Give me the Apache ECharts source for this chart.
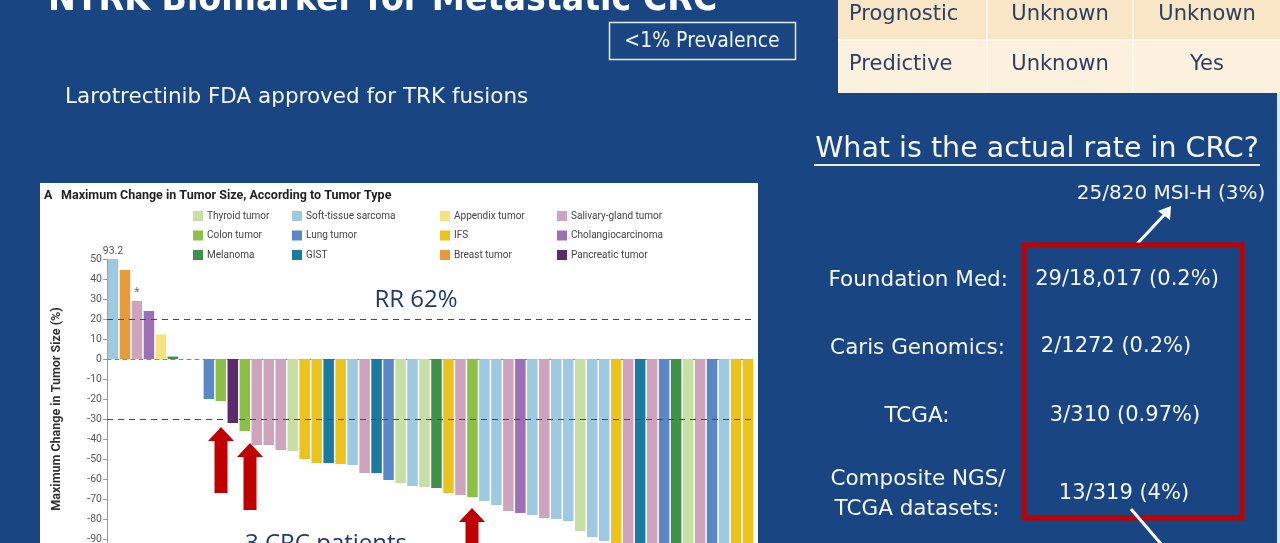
<!DOCTYPE html>
<html>
<head>
<meta charset="utf-8">
<script src="https://cdn.jsdelivr.net/npm/echarts/dist/echarts.min.js"></script>
<style>
html,body{margin:0;padding:0;background:#194682;overflow:hidden;}
#c{width:1280px;height:600px;}
</style>
</head>
<body>
<div id="c"></div>
<script>
// ---- data ----
const patients = ['1','2','3','4','5','6','7','8','9','10','11','12','13','14','15','16','17','18','19','20','21','22','23','24','25','26','27','28','29','30','31','32','33','34','35','36','37','38','39','40','41','42','43','44','45','46','47','48','49','50','51','52','53','54'];
const changes = [93.2, 44.5, 29, 24, 12.3, 1.2, null, null,
  -20, -21, -32, -36, -43, -43, -45.5, -46, -50, -52, -52, -52.5, -53, -57, -57, -60.5,
  -62, -63.5, -64, -64.5, -67, -68, -69, -71, -73, -76, -77, -78, -79.5, -80, -81, -86,
  -89, -91, -100, -100, -100, -100, -100, -100, -100, -100, -100, -100, -100, -100];
const tumorTypes = ['Soft-tissue sarcoma','Breast tumor','Salivary-gland tumor','Cholangiocarcinoma','Appendix tumor','Melanoma', null, null,
  'Lung tumor','Colon tumor','Pancreatic tumor','Colon tumor','Salivary-gland tumor','Salivary-gland tumor','Salivary-gland tumor','Thyroid tumor',
  'IFS','IFS','GIST','IFS','Soft-tissue sarcoma','Salivary-gland tumor','GIST','Lung tumor',
  'Thyroid tumor','Soft-tissue sarcoma','Thyroid tumor','Melanoma','IFS','Salivary-gland tumor','Colon tumor','Soft-tissue sarcoma',
  'Soft-tissue sarcoma','Salivary-gland tumor','Cholangiocarcinoma','Soft-tissue sarcoma','Salivary-gland tumor','Soft-tissue sarcoma','Soft-tissue sarcoma','Thyroid tumor',
  'Soft-tissue sarcoma','Soft-tissue sarcoma','IFS','Salivary-gland tumor','GIST','Salivary-gland tumor','Lung tumor','Melanoma',
  'Thyroid tumor','Salivary-gland tumor','Lung tumor','Soft-tissue sarcoma','IFS','IFS'];
const legendCol1 = ['Thyroid tumor','Colon tumor','Melanoma'];
const legendCol2 = ['Soft-tissue sarcoma','Lung tumor','GIST'];
const legendCol3 = ['Appendix tumor','IFS','Breast tumor'];
const legendCol4 = ['Salivary-gland tumor','Cholangiocarcinoma','Pancreatic tumor'];
const typeColors = {
  'Thyroid tumor':'#c6dfa3','Colon tumor':'#8cbf45','Melanoma':'#3f9148',
  'Soft-tissue sarcoma':'#9dcae0','Lung tumor':'#5b87c7','GIST':'#1b7aa0',
  'Appendix tumor':'#f6e27f','IFS':'#ecc21c','Breast tumor':'#e59b3c',
  'Salivary-gland tumor':'#cea4bd','Cholangiocarcinoma':'#9c70b6','Pancreatic tumor':'#5b2a6b'
};
const yTicks = {min:-100, max:50, interval:10};

const rateLabels = ['Foundation Med:','Caris Genomics:','TCGA:'];
const rateValues = ['29/18,017 (0.2%)','2/1272 (0.2%)','3/310 (0.97%)','13/319 (4%)'];

// ---- chart ----
const chart = echarts.init(document.getElementById('c'), null, {renderer:'canvas'});
const narrow = "Roboto,'Open Sans',sans-serif";
const slideFont = "'DejaVu Sans',sans-serif";
const condFont = "'DejaVu Sans Condensed','DejaVu Sans',sans-serif";
const allTypes = legendCol1.concat(legendCol2, legendCol3, legendCol4);

const series = allTypes.map((t, k) => ({
  name: t,
  type: 'bar',
  stack: 'all',
  barWidth: 10.5,
  itemStyle: {color: typeColors[t]},
  data: changes.map((v, i) => tumorTypes[i] === t ? v : null),
  z: 3
}));
series[3].markLine = {
  silent: true, symbol: 'none', animation: false,
  label: {show: false},
  lineStyle: {type: [6, 5], color: '#4a4a4a', width: 1.2},
  data: [{yAxis: 20}, {yAxis: -30}]
};
const stsSeries = series[allTypes.indexOf('Soft-tissue sarcoma')];
stsSeries.markPoint = {
  symbol: 'rect', symbolSize: 1, itemStyle: {color: 'rgba(0,0,0,0)'},
  label: {show: true, position: 'top', distance: 2, formatter: '93.2', color: '#555', fontSize: 10.5, fontFamily: narrow},
  data: [{coord: ['1', 50]}]
};
const salSeries = series[allTypes.indexOf('Salivary-gland tumor')];
salSeries.markPoint = {
  symbol: 'rect', symbolSize: 1, itemStyle: {color: 'rgba(0,0,0,0)'},
  label: {show: true, position: 'top', distance: 2, formatter: '*', color: '#777', fontSize: 12, fontFamily: narrow},
  data: [{coord: ['3', 29]}]
};

function legend(cols, left) {
  return {
    data: cols, left: left, top: 211, orient: 'vertical', padding: 0,
    itemWidth: 10, itemHeight: 10, itemGap: 9.5, icon: 'rect',
    selectedMode: false,
    textStyle: {fontSize: 10, lineHeight: 10, color: '#444', fontFamily: narrow, padding: [0,0,0,-1]}
  };
}

function arrow(cx, tipY, baseY) {
  return {
    type: 'polygon', z: 20,
    shape: {points: [[cx, tipY], [cx + 13, tipY + 14], [cx + 6.5, tipY + 14], [cx + 6.5, baseY],
                     [cx - 6.5, baseY], [cx - 6.5, tipY + 14], [cx - 13, tipY + 14]]},
    style: {fill: '#c00000'}
  };
}
function wtext(x, y, text, size, align) {
  return {
    type: 'text', z: 20, x: x, y: y,
    style: {text: text, fill: '#f4f6fa', font: size + 'px ' + slideFont, align: align || 'left', verticalAlign: 'middle'}
  };
}
function ttext(x, y, text, align) {
  return {type: 'text', z: 12, x: x, y: y, style: {text: text, font: '21px ' + slideFont, fill: '#2b3f63', align: align, verticalAlign: 'middle'}};
}

const graphics = [
  {type: 'rect', z: -5, shape: {x: 40, y: 183, width: 718, height: 420}, style: {fill: '#ffffff'}},
  {type: 'text', z: 5, x: 44, y: 196, style: {text: 'A', font: 'bold 12.5px ' + narrow, fill: '#222', verticalAlign: 'middle'}},
  {type: 'text', z: 5, x: 61, y: 196, style: {text: 'Maximum Change in Tumor Size, According to Tumor Type', font: 'bold 12.5px ' + narrow, fill: '#222', verticalAlign: 'middle'}},
  {type: 'text', z: 20, x: 416, y: 300, style: {text: 'RR 62%', font: '24px "Open Sans"', fill: '#1f3a6b', align: 'center', verticalAlign: 'middle'}},
  {type: 'text', z: 20, x: 326, y: 544, style: {text: '3 CRC patients', font: '24px "Open Sans"', fill: '#1f3a6b', align: 'center', verticalAlign: 'middle'}},
  arrow(221, 427, 493),
  arrow(250, 443, 510),
  arrow(472, 508, 560),
  {type: 'text', z: 20, x: 48, y: 0, style: {text: 'NTRK Biomarker for Metastatic CRC', font: 'bold 37px ' + condFont, fill: '#ffffff', verticalAlign: 'middle'}},
  {type: 'rect', z: 20, shape: {x: 609.5, y: 22.5, width: 186, height: 37}, style: {fill: 'none', stroke: '#e6ecf4', lineWidth: 1.5}},
  {type: 'text', z: 20, x: 702, y: 42, style: {text: '<1% Prevalence', fill: '#f4f6fa', font: '21px ' + condFont, align: 'center', verticalAlign: 'middle'}},
  wtext(65, 97, 'Larotrectinib FDA approved for TRK fusions', 21.5, 'left'),
  {type: 'rect', z: 10, shape: {x: 838, y: 0, width: 442, height: 40}, style: {fill: '#f9e6c6'}},
  {type: 'rect', z: 10, shape: {x: 838, y: 40, width: 442, height: 53}, style: {fill: '#fcf1de'}},
  {type: 'rect', z: 11, shape: {x: 838, y: 39, width: 442, height: 2}, style: {fill: '#fdf6ea'}},
  {type: 'rect', z: 11, shape: {x: 986, y: 0, width: 2, height: 93}, style: {fill: '#fdf6ea'}},
  {type: 'rect', z: 11, shape: {x: 1132, y: 0, width: 2, height: 93}, style: {fill: '#fdf6ea'}},
  ttext(849, 15, 'Prognostic', 'left'),
  ttext(1060, 15, 'Unknown', 'center'),
  ttext(1207, 15, 'Unknown', 'center'),
  ttext(849, 65, 'Predictive', 'left'),
  ttext(1060, 65, 'Unknown', 'center'),
  ttext(1207, 65, 'Yes', 'center'),
  {type: 'rect', z: 10, shape: {x: 1277, y: 93, width: 3, height: 500}, style: {fill: '#dfe6f0'}},
  wtext(1037, 150, 'What is the actual rate in CRC?', 28.5, 'center'),
  {type: 'rect', z: 20, shape: {x: 814, y: 164, width: 446, height: 2}, style: {fill: '#e8edf5'}},
  wtext(1171, 194, '25/820 MSI-H (3%)', 20, 'center'),
  {type: 'line', z: 20, shape: {x1: 1137, y1: 244, x2: 1165, y2: 214}, style: {stroke: '#ffffff', lineWidth: 3}},
  {type: 'polygon', z: 20, shape: {points: [[1171, 206], [1170, 220], [1158, 211]]}, style: {fill: '#ffffff'}},
  {type: 'rect', z: 20, shape: {x: 1024, y: 245, width: 218, height: 273}, style: {fill: 'none', stroke: '#c00000', lineWidth: 5}},
  wtext(1008, 280, rateLabels[0], 21.5, 'right'),
  wtext(1005, 348, rateLabels[1], 21.5, 'right'),
  wtext(917, 416, rateLabels[2], 21.5, 'center'),
  wtext(918, 479, 'Composite NGS/', 21.5, 'center'),
  wtext(917, 509, 'TCGA datasets:', 21.5, 'center'),
  wtext(1127, 280, rateValues[0], 21, 'center'),
  wtext(1116, 347, rateValues[1], 21, 'center'),
  wtext(1125, 416, rateValues[2], 21, 'center'),
  wtext(1124, 494, rateValues[3], 21, 'center'),
  {type: 'line', z: 20, shape: {x1: 1131, y1: 509, x2: 1168, y2: 552}, style: {stroke: '#ffffff', lineWidth: 3}}
];

chart.setOption({
  backgroundColor: '#194682',
  animation: false,
  grid: {left: 107, top: 259, width: 647, height: 300, containLabel: false},
  legend: [legend(legendCol1, 193), legend(legendCol2, 292), legend(legendCol3, 440), legend(legendCol4, 557)],
  xAxis: {
    type: 'category', data: patients,
    axisLine: {show: true, onZero: true, lineStyle: {color: '#888', type: [4, 4], width: 1}},
    axisTick: {show: false}, axisLabel: {show: false}, splitLine: {show: false}
  },
  yAxis: {
    type: 'value', min: yTicks.min, max: yTicks.max, interval: yTicks.interval,
    name: 'Maximum Change in Tumor Size (%)', nameLocation: 'middle', nameRotate: 90, nameGap: 44,
    nameTextStyle: {fontSize: 12.5, fontWeight: 'bold', color: '#333', fontFamily: narrow},
    axisLine: {show: true, lineStyle: {color: '#999', width: 1}},
    axisTick: {show: true, length: 4, lineStyle: {color: '#999'}},
    axisLabel: {fontSize: 10.5, color: '#555', margin: 5, fontFamily: narrow},
    splitLine: {show: false}
  },
  series: series,
  graphic: graphics
});
</script>
</body>
</html>
